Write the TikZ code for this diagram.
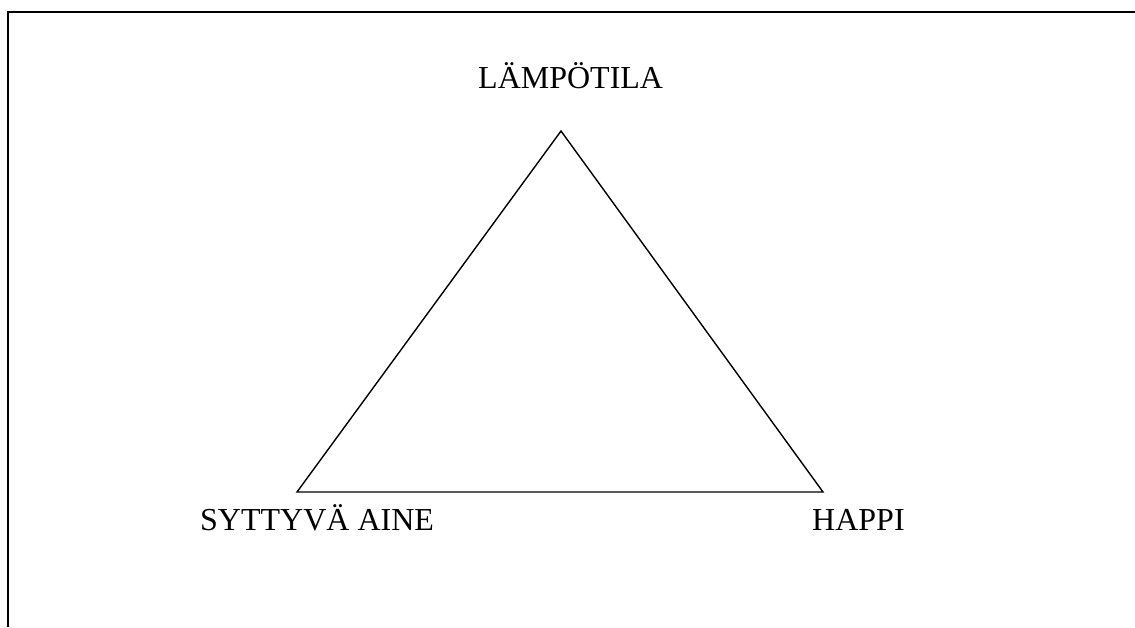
\documentclass[tikz,border=0pt]{standalone}
\usepackage{fontspec}
\setmainfont{Liberation Serif}
\begin{document}
\begin{tikzpicture}[x=1pt,y=-1pt,
  lbl/.style={anchor=base west,inner sep=0pt,font=\fontsize{32}{38}\selectfont},
  frame/.style={line width=2pt},
  edge/.style={line width=1.4pt,line join=miter}]
\useasboundingbox (0,0) rectangle (1135,627);
\draw[frame] (7.5,627) -- (7.5,12) -- (1135,12);
\coordinate (top) at (561,131);
\coordinate (bl) at (297,492);
\coordinate (br) at (823,492);
\draw[edge] (top) -- (bl) -- (br) -- cycle;
\node[lbl] (lt) at (478,88) {LÄMPÖTILA};
\node[lbl] (sa) at (200,530) {SYTTYVÄ AINE};
\node[lbl] (ha) at (812,530) {HAPPI};
\end{tikzpicture}
\end{document}
